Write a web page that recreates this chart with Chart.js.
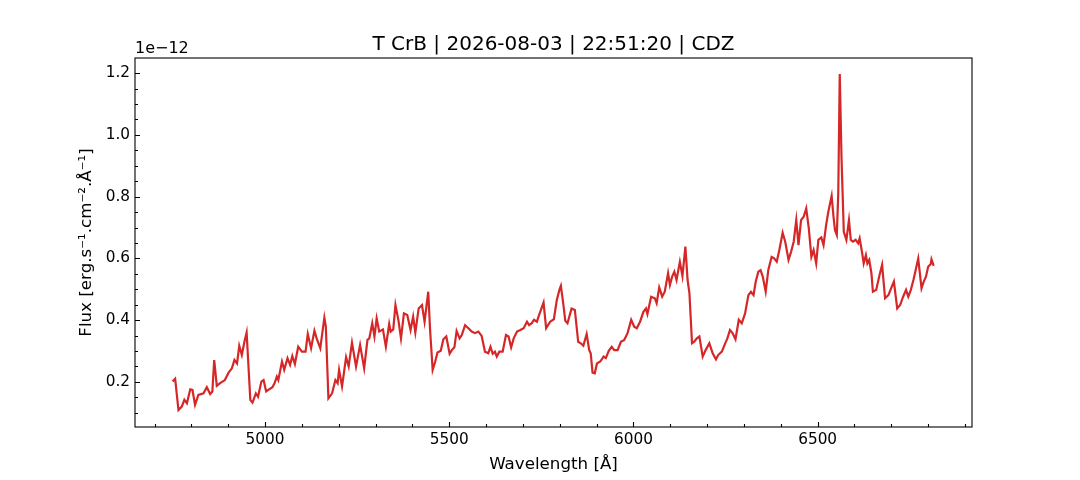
<!DOCTYPE html>
<html>
<head>
<meta charset="utf-8">
<script src="https://cdn.jsdelivr.net/npm/chart.js@4"></script>
<style>
html, body { margin: 0; padding: 0; background: #fff; }
#wrap { width: 1080px; height: 480px; }
</style>
</head>
<body>
<div id="wrap"><canvas id="spectrumChart" width="1080" height="480"></canvas></div>
<script>
// wavelength in Angstrom, flux in units of 1e-12 erg/s/cm2/A
const wavelengths = [
  4749, 4756, 4765, 4774, 4781, 4788, 4797, 4803, 4810, 4819, 4833, 4842, 4851, 4857, 4862, 4869, 4878, 4891, 4901, 4910,
  4917, 4924, 4930, 4937, 4944, 4950, 4960, 4966, 4975, 4981, 4990, 4996, 5003, 5009, 5020, 5026, 5032, 5036, 5046, 5052,
  5061, 5068, 5074, 5081, 5090, 5100, 5110, 5116, 5125, 5134, 5140, 5150, 5161, 5165, 5172, 5182, 5191, 5197, 5201, 5209,
  5220, 5227, 5236, 5247, 5258, 5269, 5278, 5283, 5291, 5297, 5303, 5310, 5320, 5328, 5337, 5341, 5348, 5354, 5362, 5369,
  5377, 5386, 5395, 5402, 5408, 5417, 5426, 5433, 5443, 5448, 5455, 5462, 5468, 5477, 5484, 5492, 5501, 5507, 5514, 5520,
  5528, 5534, 5543, 5552, 5561, 5570, 5579, 5588, 5597, 5606, 5612, 5618, 5624, 5629, 5636, 5645, 5654, 5661, 5668, 5675,
  5684, 5693, 5702, 5711, 5717, 5724, 5730, 5738, 5744,
  5756, 5763, 5774, 5784, 5792, 5799, 5803, 5810, 5815, 5821, 5832, 5841, 5850, 5857, 5864, 5873, 5880, 5884, 5889, 5895,
  5901, 5910, 5919, 5925, 5933, 5941, 5948, 5957, 5966, 5975, 5984, 5994, 6002, 6009, 6018, 6027, 6034, 6038, 6048, 6058,
  6063, 6070, 6078, 6085, 6094, 6099, 6105, 6111, 6117, 6126, 6133, 6141, 6147, 6152, 6159, 6165, 6172, 6179, 6188, 6196,
  6206, 6215, 6224, 6230, 6240, 6249, 6255, 6262, 6269, 6277, 6286,
  6294, 6303, 6312, 6319, 6326, 6332, 6339, 6345, 6351, 6359, 6366, 6375, 6382, 6389, 6396, 6405, 6412, 6421, 6428, 6435,
  6442, 6448, 6455, 6462, 6469, 6476, 6483, 6489, 6496, 6502, 6510, 6516, 6523, 6529, 6538, 6543, 6547, 6552, 6556, 6560,
  6565, 6571, 6578, 6585, 6590, 6596, 6603, 6610, 6614, 6621, 6625, 6631, 6635, 6640, 6646, 6650, 6659, 6668, 6675, 6683,
  6692, 6701, 6707, 6716, 6724, 6732, 6740, 6746, 6753, 6760, 6766, 6773, 6782, 6788, 6794, 6800, 6807, 6809, 6815
];
const flux = [
  0.201, 0.21, 0.109, 0.12, 0.142, 0.131, 0.176, 0.174, 0.126, 0.158, 0.163, 0.183, 0.161, 0.169, 0.271, 0.187, 0.196, 0.206, 0.230, 0.244,
  0.271, 0.26, 0.317, 0.287, 0.33, 0.36, 0.142, 0.133, 0.163, 0.152, 0.201, 0.206, 0.169, 0.174, 0.183, 0.196, 0.217, 0.206, 0.266, 0.239,
  0.277, 0.255, 0.284, 0.258, 0.314, 0.298, 0.298, 0.355, 0.309, 0.366, 0.341, 0.309, 0.408, 0.379, 0.147, 0.163, 0.206, 0.196, 0.239, 0.185,
  0.28, 0.25, 0.327, 0.25, 0.32, 0.244, 0.336, 0.341, 0.39, 0.347, 0.406, 0.363, 0.37, 0.314, 0.388, 0.363, 0.37, 0.449, 0.40, 0.341,
  0.422, 0.417, 0.368, 0.411, 0.36, 0.438, 0.449, 0.395, 0.492, 0.368, 0.239, 0.266, 0.295, 0.301, 0.338, 0.347, 0.291, 0.303, 0.312, 0.365,
  0.341, 0.352, 0.384, 0.374, 0.363, 0.358, 0.363, 0.349, 0.298, 0.293, 0.314, 0.291, 0.298, 0.282, 0.298, 0.298, 0.352, 0.347, 0.312, 0.341,
  0.363, 0.368, 0.374, 0.395, 0.384, 0.39, 0.401, 0.395, 0.417,
  0.457, 0.374, 0.395, 0.403, 0.465, 0.498, 0.511, 0.449, 0.398, 0.39, 0.438, 0.433, 0.33, 0.325, 0.317, 0.355, 0.303, 0.293, 0.23, 0.228,
  0.26, 0.266, 0.282, 0.277, 0.301, 0.314, 0.303, 0.303, 0.33, 0.336, 0.358, 0.401, 0.379, 0.374, 0.395, 0.427, 0.438, 0.42, 0.476, 0.471,
  0.455, 0.506, 0.476, 0.492, 0.552, 0.514, 0.541, 0.557, 0.530, 0.589, 0.543, 0.638, 0.530, 0.487, 0.325, 0.33, 0.341, 0.347, 0.282, 0.303,
  0.325, 0.293, 0.273, 0.287, 0.298, 0.325, 0.341, 0.368, 0.358, 0.338, 0.401,
  0.39, 0.422, 0.481, 0.492, 0.481, 0.525, 0.557, 0.562, 0.541, 0.492, 0.562, 0.605, 0.6, 0.589, 0.627, 0.683, 0.654, 0.595, 0.622, 0.654,
  0.724, 0.643, 0.724, 0.735, 0.762, 0.697, 0.605, 0.627, 0.584, 0.66, 0.668, 0.643, 0.708, 0.751, 0.802, 0.735, 0.692, 0.676, 0.811, 1.197,
  0.918, 0.686, 0.66, 0.724, 0.66, 0.654, 0.66, 0.649, 0.665, 0.616, 0.584, 0.611, 0.584, 0.595, 0.552, 0.492, 0.498, 0.546, 0.579, 0.471,
  0.481, 0.508, 0.525, 0.438, 0.449, 0.476, 0.498, 0.476, 0.498, 0.53, 0.562, 0.6, 0.503, 0.525, 0.541, 0.573, 0.582, 0.597, 0.576
];
const xTicks = [5000, 5500, 6000, 6500];
const yTicks = [0.2, 0.4, 0.6, 0.8, 1.0, 1.2];
const chartTitle = 'T CrB | 2026-08-03 | 22:51:20 | CDZ';
const offsetText = '1e\u221212';

Chart.defaults.font.family = '"DejaVu Sans", sans-serif';
Chart.defaults.font.size = 15.3;
Chart.defaults.color = '#000';

// matplotlib-like frame, inward ticks, title and offset label
const frameAndTicks = {
  id: 'frameAndTicks',
  afterDraw(chart) {
    const { ctx, chartArea: a, scales: { x, y } } = chart;
    ctx.save();
    ctx.strokeStyle = '#000';
    ctx.lineWidth = 1.1;
    ctx.beginPath();
    for (let v = 4700; v <= 6900; v += 100) {
      const px = Math.round(x.getPixelForValue(v)) + 0.5;
      const len = v % 500 === 0 ? 5 : 3;
      ctx.moveTo(px, a.bottom);
      ctx.lineTo(px, a.bottom - len);
    }
    for (let i = 2; i <= 24; i++) {
      const py = Math.round(y.getPixelForValue(i * 0.05)) + 0.5;
      const len = i % 4 === 0 ? 5 : 3;
      ctx.moveTo(a.left, py);
      ctx.lineTo(a.left + len, py);
    }
    ctx.stroke();
    ctx.strokeRect(a.left, a.top, a.right - a.left, a.bottom - a.top);

    ctx.fillStyle = '#000';
    ctx.textBaseline = 'alphabetic';
    ctx.font = '20px "DejaVu Sans"';
    ctx.textAlign = 'center';
    ctx.fillText(chartTitle, (a.left + a.right) / 2, a.top - 8);
    ctx.font = '16px "DejaVu Sans"';
    ctx.textAlign = 'left';
    ctx.fillText(offsetText, a.left, a.top - 5);
    ctx.restore();
  }
};

const ctx = document.getElementById('spectrumChart').getContext('2d');
new Chart(ctx, {
  type: 'line',
  data: {
    datasets: [{
      label: 'Flux',
      data: wavelengths.map((w, i) => ({ x: w, y: flux[i] })),
      borderColor: '#d62728',
      borderWidth: 2.2,
      pointRadius: 0,
      tension: 0,
      fill: false
    }]
  },
  options: {
    responsive: false,
    animation: false,
    layout: { padding: { top: 58, right: 108, bottom: 0, left: 0 } },
    plugins: {
      legend: { display: false },
      tooltip: { enabled: false },
      title: { display: false }
    },
    scales: {
      x: {
        type: 'linear',
        min: 4647,
        max: 6919,
        afterBuildTicks: s => { s.ticks = xTicks.map(v => ({ value: v })); },
        afterFit: s => { s.height = 53; },
        grid: { display: false, drawTicks: false },
        border: { display: false },
        ticks: { padding: 4, maxRotation: 0, autoSkip: false, callback: v => String(v) },
        title: { display: true, text: 'Wavelength [Å]', font: { size: 16.7 }, padding: { top: 0, bottom: 5.7 } }
      },
      y: {
        type: 'linear',
        min: 0.054,
        max: 1.249,
        afterBuildTicks: s => { s.ticks = yTicks.map(v => ({ value: v })); },
        afterFit: s => { s.width = 135; },
        grid: { display: false, drawTicks: false },
        border: { display: false },
        ticks: { padding: 5, autoSkip: false, callback: v => v.toFixed(1) },
        title: { display: true, text: 'Flux [erg.s\u207B\u00B9.cm\u207B\u00B2.Å\u207B\u00B9]', font: { size: 16.7 }, padding: { top: 77, bottom: 0 } }
      }
    }
  },
  plugins: [frameAndTicks]
});
</script>
</body>
</html>
